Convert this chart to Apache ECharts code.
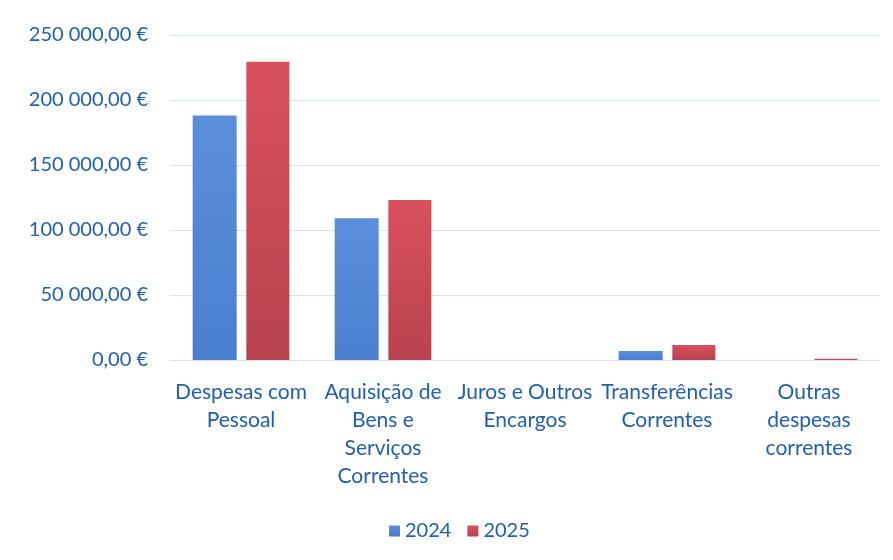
<!DOCTYPE html>
<html>
<head>
<meta charset="utf-8">
<script src="https://cdn.jsdelivr.net/npm/echarts@6/dist/echarts.min.js"></script>
<style>
  html, body { margin: 0; padding: 0; background: #fff; }
  #chart { width: 893px; height: 560px; }
</style>
</head>
<body>
<div id="chart"></div>
<script>
// categorias (com quebras de linha como no original)
var categories = [
  "Despesas com\nPessoal",
  "Aquisição de\nBens e\nServiços\nCorrentes",
  "Juros e Outros\nEncargos",
  "Transferências\nCorrentes",
  "Outras\ndespesas\ncorrentes"
];
var values2024 = [188000, 109000, 0, 7000, 0];
var values2025 = [229500, 123000, 0, 11500, 900];
var years = ["2024", "2025"];

var textColor = "#2160ae";
var font = "Lato, 'Open Sans', sans-serif";

function fmtEuro(v) {
  var s = Math.round(v).toString().replace(/\B(?=(\d{3})+(?!\d))/g, " ");
  return s + ",00 €";
}

function grad(top, bottom) {
  return new echarts.graphic.LinearGradient(0, 0, 0, 1, [
    { offset: 0, color: top },
    { offset: 1, color: bottom }
  ]);
}

var myChart = echarts.init(document.getElementById("chart"));
myChart.setOption({
  animation: false,
  textStyle: { fontFamily: font },
  grid: { left: 170, right: 13, top: 35, bottom: 200 },
  legend: {
    data: years,
    bottom: 14,
    left: 384,
    itemWidth: 11,
    itemHeight: 11,
    itemGap: 16,
    icon: "rect",
    textStyle: { color: textColor, fontSize: 20, fontFamily: font }
  },
  xAxis: {
    type: "category",
    data: categories,
    axisLine: { lineStyle: { color: "#d6e4f5" } },
    axisTick: { show: false },
    axisLabel: {
      color: textColor,
      fontSize: 21,
      lineHeight: 28,
      interval: 0,
      margin: 18,
      fontFamily: font
    }
  },
  yAxis: {
    type: "value",
    min: 0,
    max: 250000,
    interval: 50000,
    axisLine: { show: false },
    axisTick: { show: false },
    splitLine: { lineStyle: { color: "#d6e4f5", width: 1 } },
    axisLabel: {
      color: textColor,
      fontSize: 20,
      margin: 22,
      fontFamily: font,
      formatter: fmtEuro
    }
  },
  series: [
    {
      name: years[0],
      type: "bar",
      data: values2024,
      barWidth: 44,
      barGap: "22%",
      itemStyle: { color: grad("#5b8fdc", "#4a7fd0") }
    },
    {
      name: years[1],
      type: "bar",
      data: values2025,
      barWidth: 43,
      itemStyle: { color: grad("#d9505e", "#b8424e") }
    }
  ]
});
</script>
</body>
</html>
